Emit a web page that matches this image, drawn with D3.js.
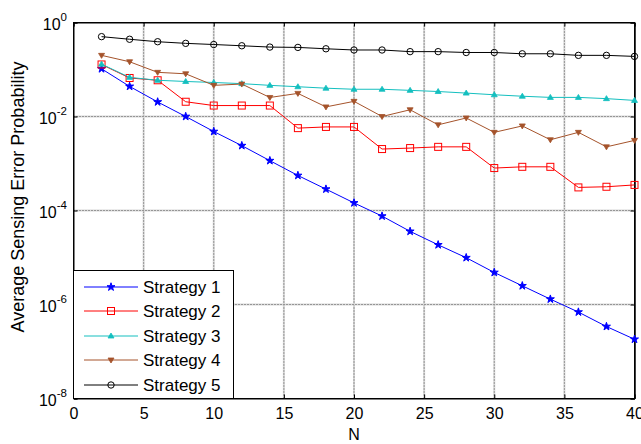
<!DOCTYPE html>
<html><head><meta charset="utf-8">
<script src="https://cdn.jsdelivr.net/npm/d3@7"></script>
<style>body{margin:0;background:#fff;} svg{display:block;} text{font-family:"Liberation Sans",Arial,sans-serif;}</style>
</head><body><svg id="c" width="641" height="444"></svg>
<script>
const N = [2,4,6,8,10,12,14,16,18,20,22,24,26,28,30,32,34,36,38,40];
const strategy1 = [0.1035,0.0437,0.0204,0.0100,0.00479,0.0024,0.00115,0.000556,0.000285,0.000145,7.6e-5,3.6e-5,1.86e-5,9.9e-6,4.8e-6,2.5e-6,1.3e-6,6.9e-7,3.4e-7,1.82e-7];
const strategy2 = [0.128,0.066,0.059,0.0206,0.0171,0.0171,0.0171,0.00566,0.0060,0.0060,0.00203,0.00213,0.00226,0.00226,0.00080,0.00085,0.00085,0.00031,0.00032,0.00035];
const strategy3 = [0.13,0.068,0.059,0.0556,0.0529,0.050,0.046,0.043,0.040,0.038,0.038,0.036,0.034,0.0315,0.029,0.027,0.0255,0.0255,0.024,0.022];
const strategy4 = [0.20,0.146,0.087,0.081,0.046,0.049,0.0254,0.031,0.016,0.021,0.010,0.0139,0.00665,0.0093,0.0046,0.0063,0.0032,0.0046,0.00226,0.0031];
const strategy5 = [0.50,0.44,0.39,0.36,0.34,0.32,0.30,0.295,0.276,0.26,0.26,0.24,0.24,0.23,0.23,0.216,0.216,0.20,0.20,0.19];
const seriesNames = ["Strategy 1","Strategy 2","Strategy 3","Strategy 4","Strategy 5"];
const xTickValues = [0,5,10,15,20,25,30,35,40];
const yTickExps = [0,-2,-4,-6,-8];
const xLabel = "N";
const yLabel = "Average Sensing Error Probability";

const colors = ["#0000ff","#ff0000","#14bfbf","#a5532b","#000000"];
const markers = ["star","square","triUp","triDown","circle"];
const allSeries = [strategy1,strategy2,strategy3,strategy4,strategy5];

const svg = d3.select("#c");
const L = 73.5, R = 634.5, T = 22.5, B = 398.5;
const x = d3.scaleLinear().domain([0,40]).range([L,R]);
const y = d3.scaleLog().domain([1e-8,1]).range([B,T]);

// grid
const grid = svg.append("g");
xTickValues.slice(1,-1).forEach(t=>{
  grid.append("line").attr("x1",x(t)).attr("x2",x(t)).attr("y1",T).attr("y2",B)
    .attr("stroke","#d8d8d8").attr("stroke-width",2);
  grid.append("line").attr("x1",x(t)).attr("x2",x(t)).attr("y1",T).attr("y2",B)
    .attr("stroke","#555").attr("stroke-width",1).attr("stroke-dasharray","1,2");
});
yTickExps.slice(1,-1).forEach(e=>{
  const yy = y(Math.pow(10,e));
  grid.append("line").attr("x1",L).attr("x2",R).attr("y1",yy).attr("y2",yy)
    .attr("stroke","#d8d8d8").attr("stroke-width",2);
  grid.append("line").attr("x1",L).attr("x2",R).attr("y1",yy).attr("y2",yy)
    .attr("stroke","#555").attr("stroke-width",1).attr("stroke-dasharray","1,2");
});

// axes
const fmtInt = d => String(Math.round(d));
const xAxisB = d3.axisBottom(x).tickValues(xTickValues).tickSize(-4).tickPadding(9).tickFormat(fmtInt);
const xAxisT = d3.axisTop(x).tickValues(xTickValues).tickSize(-4).tickFormat(() => "");
const yAxisL = d3.axisLeft(y).tickValues(yTickExps.map(e=>Math.pow(10,e))).tickSize(-4).tickFormat(() => "");
const yAxisR = d3.axisRight(y).tickValues(yTickExps.map(e=>Math.pow(10,e))).tickSize(-4).tickFormat(() => "");
function style(g){ g.select(".domain").attr("stroke","#000"); g.selectAll(".tick line").attr("stroke","#000"); g.selectAll("text").attr("font-size",16).attr("fill","#000").attr("font-family","Liberation Sans, Arial, sans-serif"); }
svg.append("g").attr("transform",`translate(0,${B})`).call(xAxisB).call(style);
svg.append("g").attr("transform",`translate(0,${T})`).call(xAxisT).call(style);
svg.append("g").attr("transform",`translate(${L},0)`).call(yAxisL).call(style);
svg.append("g").attr("transform",`translate(${R},0)`).call(yAxisR).call(style);
svg.append("rect").attr("x",L).attr("y",T).attr("width",R-L).attr("height",B-T).attr("fill","none").attr("stroke","#000");
svg.append("line").attr("x1",R+0.5).attr("x2",R+0.5).attr("y1",T).attr("y2",B).attr("stroke","#000");

// y tick labels with superscripts
const yl = svg.append("g");
yTickExps.forEach(e=>{
  const yy = y(Math.pow(10,e));
  const t = yl.append("text").attr("x",67).attr("y",yy+7).attr("text-anchor","end").attr("font-size",16).attr("fill","#000");
  t.append("tspan").text("10");
  t.append("tspan").attr("dy",-9).attr("font-size",11.5).text(e===0?"0":"-"+(-e));
});

// axis labels
svg.append("text").attr("x",x(20)).attr("y",440).attr("text-anchor","middle").attr("font-size",16).text(xLabel);
svg.append("text").attr("transform",`translate(24,197) rotate(-90)`).attr("text-anchor","middle").attr("font-size",18).text(yLabel);

// markers
function drawMarker(g, type, cx, cy, color){
  if(type==="star"){
    g.append("path").attr("d", d3.symbol().type(d3.symbolStar).size(20)()).attr("transform",`translate(${cx},${cy})`).attr("fill",color).attr("stroke",color).attr("stroke-width",1);
  } else if(type==="square"){
    g.append("rect").attr("x",cx-3.5).attr("y",cy-3.5).attr("width",7).attr("height",7).attr("fill","none").attr("stroke",color).attr("stroke-width",1);
  } else if(type==="triUp"){
    g.append("path").attr("d",`M${cx},${cy-3}L${cx+3},${cy+2}L${cx-3},${cy+2}Z`).attr("fill",color).attr("stroke",color).attr("stroke-width",0.8);
  } else if(type==="triDown"){
    g.append("path").attr("d",`M${cx},${cy+3}L${cx+3},${cy-2}L${cx-3},${cy-2}Z`).attr("fill",color).attr("stroke",color).attr("stroke-width",0.8);
  } else {
    g.append("circle").attr("cx",cx).attr("cy",cy).attr("r",3.2).attr("fill","none").attr("stroke",color).attr("stroke-width",1);
  }
}

const line = d3.line().x((d,i)=>x(N[i])).y(d=>y(d));
const plot = svg.append("g");
allSeries.forEach((s,k)=>{
  const g = plot.append("g");
  g.append("path").datum(s).attr("d",line).attr("fill","none").attr("stroke",colors[k]).attr("stroke-width",1);
  s.forEach((v,i)=>drawMarker(g, markers[k], x(N[i]), y(v), colors[k]));
});

// legend
const lg = svg.append("g");
lg.append("rect").attr("x",73.5).attr("y",270.5).attr("width",160).attr("height",128).attr("fill","#fff").attr("stroke","#000");
const rowY = [287,311,336,360,385];
seriesNames.forEach((n,k)=>{
  lg.append("line").attr("x1",84).attr("x2",138).attr("y1",rowY[k]).attr("y2",rowY[k]).attr("stroke",colors[k]).attr("stroke-width",1);
  drawMarker(lg, markers[k], 111, rowY[k], colors[k]);
  lg.append("text").attr("x",143).attr("y",rowY[k]+6).attr("font-size",17).attr("fill","#000").text(n);
});
</script></body></html>
